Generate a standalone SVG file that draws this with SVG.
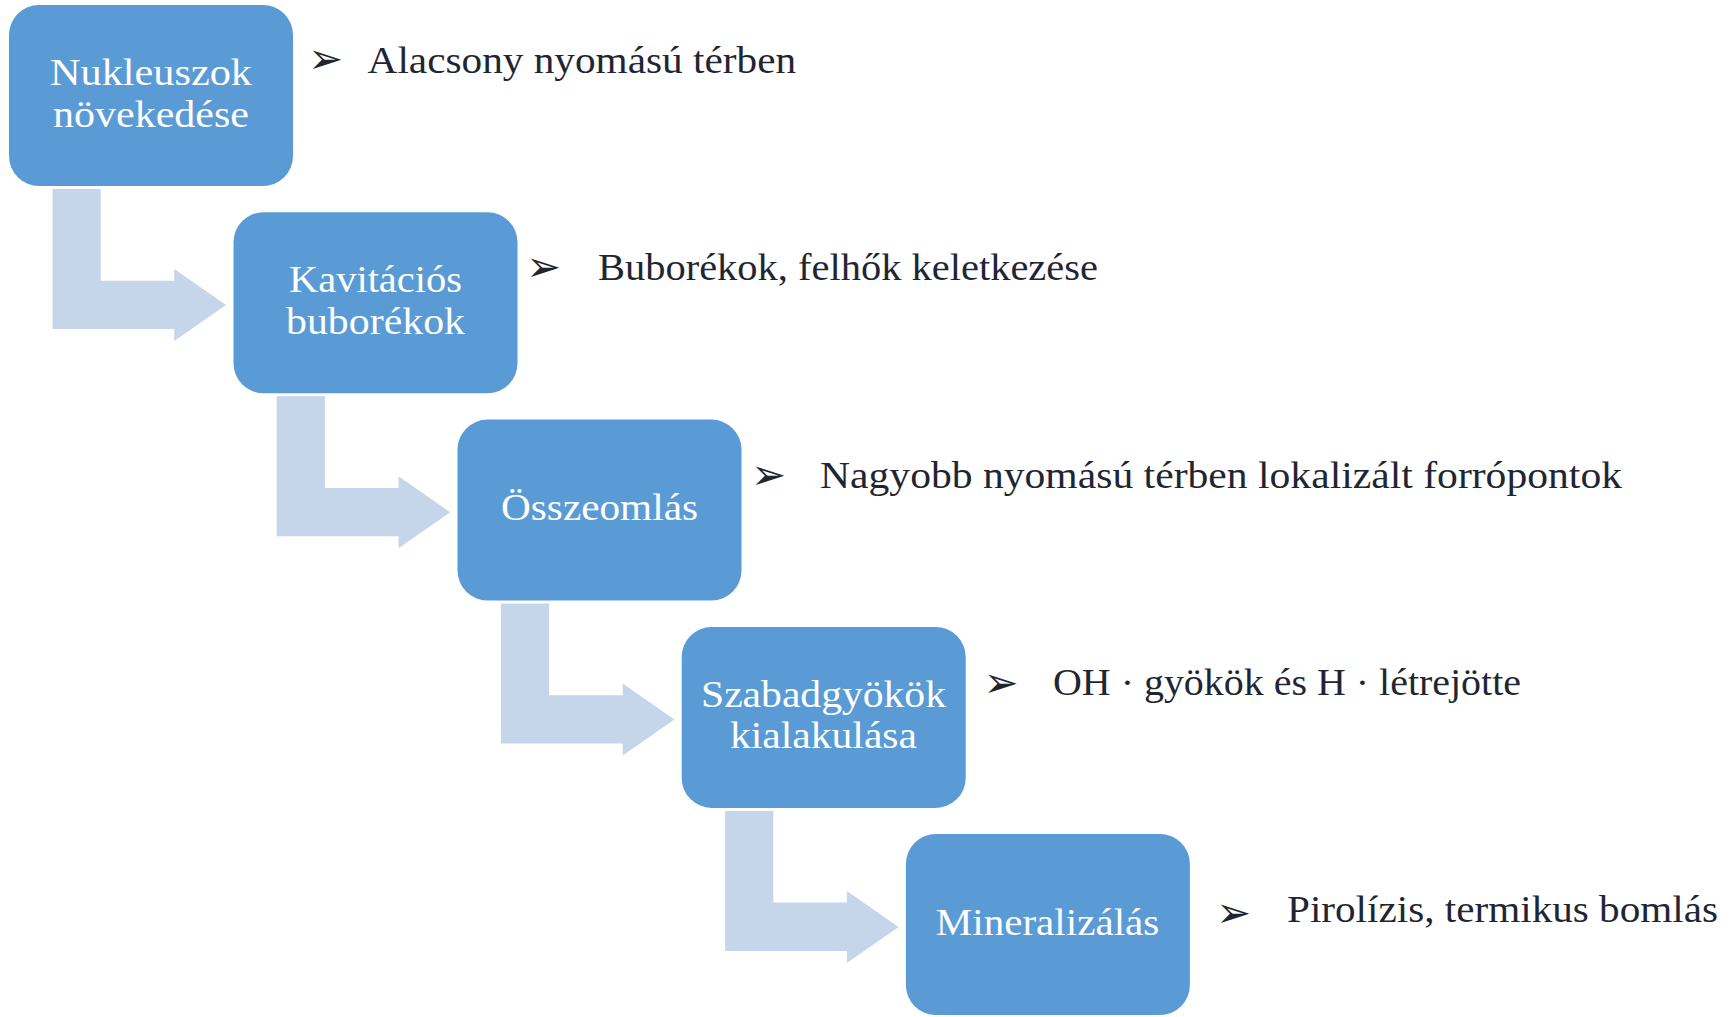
<svg xmlns="http://www.w3.org/2000/svg" xmlns:xlink="http://www.w3.org/1999/xlink" width="1736" height="1017" viewBox="0 0 1736 1017">
<style>
.box{fill:#5B9BD5;}
.arr{fill:#C5D5EA;}
.bt{fill:#FFFFFF;font-family:"Liberation Serif","DejaVu Serif",serif;font-size:37px;text-anchor:middle;}
.rt{fill:#1F2633;font-family:"Liberation Serif","DejaVu Serif",serif;font-size:38px;}
.bul{fill:#1F2633;font-family:"DejaVu Sans",sans-serif;font-size:42px;}
</style>
<defs>
<path id="bend" d="M52.5,189 H100.7 V280.7 H174.3 V269 L226,305 L174.3,341 V329 H52.5 Z"/>
</defs>
<rect width="1736" height="1017" fill="#FFFFFF"/>
<g id="connectors">
<use xlink:href="#bend" class="arr"/>
<use xlink:href="#bend" class="arr" transform="translate(224.2,207.3)"/>
<use xlink:href="#bend" class="arr" transform="translate(448.4,414.6)"/>
<use xlink:href="#bend" class="arr" transform="translate(672.6,621.9)"/>
</g>
<g id="node1">
<rect class="box" x="9" y="5" width="284" height="181" rx="30"/>
<text class="bt" x="151" y="85" textLength="202" lengthAdjust="spacingAndGlyphs">Nukleuszok</text>
<text class="bt" x="151" y="127" textLength="196" lengthAdjust="spacingAndGlyphs">növekedése</text>
</g>
<g id="node2">
<rect class="box" x="233.5" y="212.3" width="284" height="181" rx="30"/>
<text class="bt" x="375.5" y="292" textLength="173" lengthAdjust="spacingAndGlyphs">Kavitációs</text>
<text class="bt" x="375.5" y="334" textLength="179" lengthAdjust="spacingAndGlyphs">buborékok</text>
</g>
<g id="node3">
<rect class="box" x="457.5" y="419.6" width="284" height="181" rx="30"/>
<text class="bt" x="599.5" y="519.5" textLength="197" lengthAdjust="spacingAndGlyphs">Összeomlás</text>
</g>
<g id="node4">
<rect class="box" x="681.7" y="626.9" width="284" height="181" rx="30"/>
<text class="bt" x="823.5" y="707" textLength="245" lengthAdjust="spacingAndGlyphs">Szabadgyökök</text>
<text class="bt" x="823.5" y="748" textLength="187" lengthAdjust="spacingAndGlyphs">kialakulása</text>
</g>
<g id="node5">
<rect class="box" x="905.9" y="834" width="284" height="181" rx="30"/>
<text class="bt" x="1047.5" y="934.5" textLength="223.6" lengthAdjust="spacingAndGlyphs">Mineralizálás</text>
</g>
<g id="notes">
<text class="bul" x="308" y="73">➢</text>
<text class="rt" x="367.6" y="72.7" textLength="428.5" lengthAdjust="spacingAndGlyphs">Alacsony nyomású térben</text>
<text class="bul" x="526" y="281">➢</text>
<text class="rt" x="598" y="279.5" textLength="500" lengthAdjust="spacingAndGlyphs">Buborékok, felhők keletkezése</text>
<text class="bul" x="751" y="488.5">➢</text>
<text class="rt" x="820" y="488" textLength="802" lengthAdjust="spacingAndGlyphs">Nagyobb nyomású térben lokalizált forrópontok</text>
<text class="bul" x="983.5" y="697">➢</text>
<text class="rt" x="1053" y="695" textLength="468" lengthAdjust="spacingAndGlyphs">OH · gyökök és H · létrejötte</text>
<text class="bul" x="1216" y="926.5">➢</text>
<text class="rt" x="1287" y="921.7" textLength="431" lengthAdjust="spacingAndGlyphs">Pirolízis, termikus bomlás</text>
</g>
</svg>
